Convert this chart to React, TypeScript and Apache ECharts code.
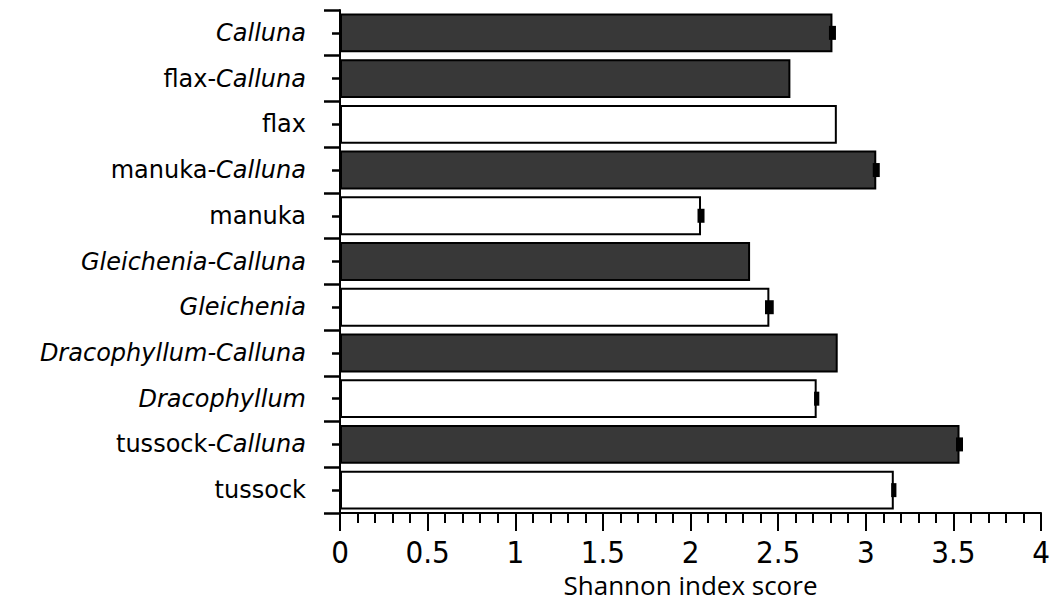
import React, { useEffect, useRef } from "react";
import * as echarts from "echarts";

// categories, top to bottom; "*" marks italic segments
const categories = [
  "*Calluna*",
  "flax-*Calluna*",
  "flax",
  "manuka-*Calluna*",
  "manuka",
  "*Gleichenia-Calluna*",
  "*Gleichenia*",
  "*Dracophyllum-Calluna*",
  "*Dracophyllum*",
  "tussock-*Calluna*",
  "tussock",
];
const shannon = [2.81, 2.57, 2.835, 3.06, 2.06, 2.34, 2.45, 2.84, 2.72, 3.535, 3.16];
const stdErr = [0.02, 0, 0, 0.02, 0.02, 0, 0.025, 0, 0.015, 0.02, 0.015];
const withCalluna = [true, true, false, true, false, true, false, true, false, true, false];
const xTicks = ["0", "0.5", "1", "1.5", "2", "2.5", "3", "3.5", "4"];

function richLabel(s: string): string {
  const parts = s.split("*");
  return parts
    .map((p, i) => (p === "" ? "" : i % 2 === 1 ? `{i|${p}}` : `{n|${p}}`))
    .join("");
}

export default function App() {
  const ref = useRef<HTMLDivElement>(null);
  useEffect(() => {
    if (!ref.current) return;
    const chart = echarts.init(ref.current, null, { renderer: "svg" });
    const labelFont = "'DejaVu Sans', 'Open Sans', sans-serif";
    const option: any = {
      animation: false,
      backgroundColor: "#ffffff",
      grid: { left: 340, right: 18, top: 10, bottom: 90, containLabel: false },
      xAxis: {
        type: "value",
        min: 0,
        max: 4,
        interval: 0.5,
        name: "Shannon index score",
        nameLocation: "middle",
        nameGap: 58,
        nameTextStyle: { fontFamily: "'Open Sans', sans-serif", fontSize: 26, color: "#000" },
        axisLine: { show: true, lineStyle: { color: "#000", width: 2 } },
        axisTick: { show: true, length: 18, lineStyle: { color: "#000", width: 2 } },
        minorTick: { show: true, splitNumber: 5, length: 10, lineStyle: { color: "#000", width: 2 } },
        splitLine: { show: false },
        axisLabel: {
          margin: 23,
          fontFamily: "'Liberation Sans Narrow', 'DejaVu Sans Condensed', Roboto, sans-serif",
          fontSize: 31,
          color: "#000",
          formatter: (v: number) => {
            const idx = Math.round(v / 0.5);
            return xTicks[idx] ?? String(v);
          },
        },
      },
      yAxis: [
        {
          type: "category",
          inverse: true,
          data: categories,
          axisLine: { show: true, lineStyle: { color: "#000", width: 2 } },
          axisTick: { show: true, length: 16, lineStyle: { color: "#000", width: 2.5 } },
          axisLabel: {
            margin: 34,
            formatter: (v: string) => richLabel(v),
            rich: {
              n: { fontFamily: labelFont, fontSize: 24, color: "#000" },
              i: { fontFamily: labelFont, fontSize: 24, fontStyle: "italic", color: "#000" },
            },
          },
        },
        {
          type: "category",
          inverse: true,
          position: "left",
          data: categories,
          axisLine: { show: false },
          axisTick: { show: true, alignWithLabel: true, length: 8, lineStyle: { color: "#000", width: 2.5 } },
          axisLabel: { show: false },
        },
      ],
      series: [
        {
          type: "bar",
          yAxisIndex: 0,
          barCategoryGap: "15%",
          data: shannon.map((v, i) => ({
            value: v,
            itemStyle: {
              color: withCalluna[i] ? "#383838" : "#ffffff",
              borderColor: "#000",
              borderWidth: 2,
            },
          })),
        },
        {
          type: "custom",
          yAxisIndex: 0,
          z: 5,
          encode: { x: 0, y: 1 },
          data: shannon
            .map((v, i) => [v, i, stdErr[i]])
            .filter((d) => d[2] > 0),
          renderItem: (_params: any, api: any) => {
            const v = api.value(0);
            const c = api.value(1);
            const e = api.value(2);
            const p1 = api.coord([v - e, c]);
            const p2 = api.coord([v + e, c]);
            const w = Math.max(3, p2[0] - p1[0]);
            return {
              type: "rect",
              shape: { x: (p1[0] + p2[0]) / 2 - w / 2, y: p1[1] - 7, width: w, height: 14 },
              style: { fill: "#000" },
            };
          },
        },
      ],
    };
    chart.setOption(option);
    return () => chart.dispose();
  }, []);
  return <div ref={ref} style={{ width: 1059, height: 603, position: "absolute", left: 0, top: 0 }} />;
}
